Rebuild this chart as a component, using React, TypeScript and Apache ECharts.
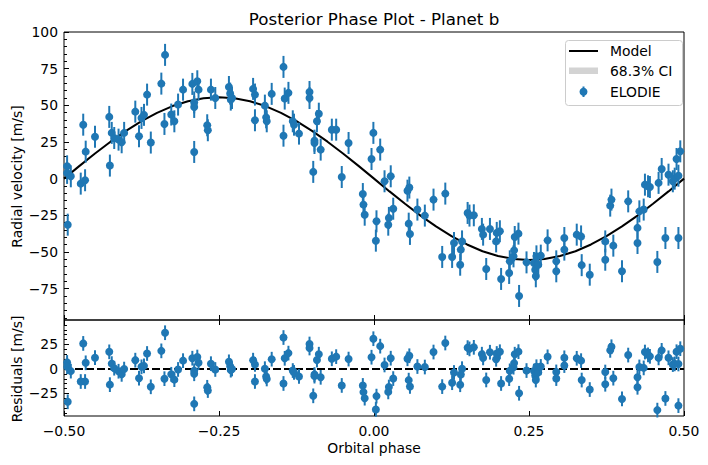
import React, { useEffect, useRef } from "react";
import * as echarts from "echarts";

// ---- Data ----
const PHASE = [
  -0.495, -0.495, -0.489, -0.494, -0.473, -0.466, -0.469, -0.465, -0.45, -0.427,
  -0.426, -0.423, -0.419, -0.412, -0.407, -0.403, -0.385, -0.379, -0.375, -0.371,
  -0.366, -0.36, -0.343, -0.337, -0.338, -0.327, -0.322, -0.316, -0.308, -0.293,
  -0.285, -0.283, -0.29, -0.29, -0.29, -0.269, -0.268, -0.263, -0.256, -0.234,
  -0.232, -0.231, -0.229, -0.195, -0.192, -0.192, -0.176, -0.174, -0.173, -0.165,
  -0.146, -0.146, -0.144, -0.138, -0.131, -0.129, -0.121, -0.104, -0.104, -0.098,
  -0.096, -0.096, -0.092, -0.089, -0.086, -0.068, -0.061, -0.052, -0.041, -0.018,
  -0.017, -0.015, -0.004, -0.001, 0.004, 0.003, 0.01, 0.017, 0.023, 0.024,
  0.027, 0.031, 0.054, 0.057, 0.056, 0.058, 0.07, 0.082, 0.096, 0.115,
  0.11, 0.126, 0.129, 0.139, 0.142, 0.14, 0.151, 0.154, 0.161, 0.174,
  0.176, 0.181, 0.187, 0.197, 0.198, 0.203, 0.205, 0.218, 0.219, 0.225,
  0.226, 0.227, 0.233, 0.234, 0.246, 0.258, 0.26, 0.262, 0.261, 0.265,
  0.269, 0.28, 0.294, 0.294, 0.307, 0.307, 0.327, 0.334, 0.335, 0.348,
  0.373, 0.373, 0.386, 0.4, 0.381, 0.383, 0.41, 0.425, 0.425, 0.428,
  0.435, 0.437, 0.442, 0.445, 0.457, 0.459, 0.464, 0.47, 0.475, 0.482,
  0.485, 0.488, 0.491, 0.491, 0.494,
];

const RV = [
  8.4, 3.9, 1.6, -31.4, -3.4, -1.1, 36.8, 18.4, 28.6, 42.1,
  8.9, 31.2, 27.7, 26.6, 24.8, 31.2, 45.7, 28.9, 41.4, 43.5,
  57.3, 24.6, 64.8, 84.4, 37.3, 43.7, 39.1, 50.5, 60.7, 64.6,
  66.4, 60.7, 52.0, 48.9, 18.2, 36.4, 33.0, 60.7, 55.0, 62.5,
  58.0, 53.9, 55.0, 61.2, 57.3, 39.8, 49.8, 41.8, 39.1, 57.8,
  76.2, 29.3, 54.6, 58.5, 39.1, 36.8, 30.7, 59.1, 55.0, 4.6,
  25.9, 24.3, 39.1, 44.3, 19.8, 33.4, 33.4, 1.1, 24.3, -10.5,
  -17.7, -24.6, 13.4, 31.2, -29.1, -42.3, 19.8, -1.8, -31.4, -26.8,
  1.6, -20.5, -8.2, -6.1, -30.7, -37.7, -21.1, -25.2, -14.3, -10.2,
  -53.4, -53.4, -43.9, -58.7, -42.8, -48.4, -23.4, -25.2, -25.0, -34.3,
  -38.2, -61.6, -34.3, -42.8, -37.0, -35.9, -68.4, -64.3, -56.4, -53.0,
  -48.9, -39.8, -37.5, -80.0, -57.1, -57.5, -62.1, -53.0, -66.6, -58.7,
  -52.5, -42.1, -56.4, -63.2, -40.5, -48.4, -38.2, -39.4, -59.0, -65.5,
  -42.8, -55.3, -45.7, -63.2, -18.4, -14.3, -15.5, -33.6, -43.9, -22.3,
  -21.1, -4.1, -5.2, -5.7, -56.8, -2.9, 6.6, -40.5, 2.7, -1.8,
  0.0, 13.4, 2.0, -40.5, 18.6,
];

const RESID = [
  6.7, 2.2, -2.2, -33.5, -12.8, -12.8, 26.1, 6.3, 11.5, 17.5,
  -16.0, 5.5, 0.8, -2.3, -5.5, -0.1, 9.0, -9.4, 2.2, 3.2,
  15.8, -18.2, 18.5, 37.0, -9.9, -5.4, -10.9, -0.5, 8.5, 11.0,
  12.2, 6.4, -1.8, -4.9, -35.6, -18.7, -22.0, 5.4, -0.5, 7.3,
  2.9, -1.2, 0.0, 9.0, 4.7, -12.8, 0.3, -7.6, -10.2, 10.0,
  32.1, -14.8, 10.9, 16.2, -1.6, -3.5, -7.6, 25.5, 21.4, -27.4,
  -5.7, -7.3, 9.1, 15.1, -8.5, 10.4, 12.6, -16.8, 10.1, -16.8,
  -23.6, -29.8, 12.0, 30.9, -27.7, -41.3, 23.3, 4.1, -23.4, -18.4,
  11.0, -9.8, 10.4, 13.5, -11.4, -17.8, 2.5, 2.0, 17.3, 26.5,
  -18.0, -14.0, -3.6, -16.1, 0.3, -5.6, 21.8, 20.5, 22.1, 15.1,
  11.3, -11.2, 17.1, 9.9, 15.8, 17.6, -14.8, -9.9, -1.9, 1.8,
  6.0, 15.1, 17.7, -24.8, -1.6, -2.1, -6.7, 2.3, -11.3, -3.5,
  2.6, 12.4, -3.0, -9.8, 11.4, 3.5, 10.9, 8.5, -11.3, -21.0,
  -3.1, -15.6, -9.4, -30.6, 19.0, 22.7, 14.2, -8.4, -18.7, 2.1,
  1.1, 17.3, 14.4, 12.9, -42.0, 11.3, 19.0, -30.1, 11.4, 4.5,
  5.2, 17.6, 5.1, -37.4, 20.7,
];

const RV_ERR = 7.5;

// Model curve sampled from the plotted line
const MODEL_X = [
  -0.5, -0.475, -0.45, -0.425, -0.4, -0.375, -0.35, -0.325, -0.3, -0.275,
  -0.25, -0.225, -0.2, -0.175, -0.15, -0.125, -0.1, -0.075, -0.05, -0.025,
  0, 0.025, 0.05, 0.075, 0.1, 0.125, 0.15, 0.175, 0.2, 0.225,
  0.25, 0.275, 0.3, 0.325, 0.35, 0.375, 0.4, 0.425, 0.45, 0.475, 0.5,
];
const MODEL_Y = [
  0, 8.7, 17.1, 25.2, 32.6, 39.2, 44.9, 49.5, 52.8, 54.8,
  55.5, 54.8, 52.8, 49.5, 44.9, 39.2, 32.6, 25.2, 17.1, 8.7,
  0, -8.7, -17.1, -25.2, -32.6, -39.2, -44.9, -49.5, -52.8, -54.8,
  -55.5, -54.8, -52.8, -49.5, -44.9, -39.2, -32.6, -25.2, -17.1, -8.7, 0,
];

const X_TICKS = [-0.5, -0.25, 0, 0.25, 0.5];
const RV_TICKS = [-75, -50, -25, 0, 25, 50, 75, 100];
const RV_MINOR = [
  -95, -90, -85, -80, -70, -65, -60, -55, -45, -40, -35, -30, -20, -15, -10, -5,
  5, 10, 15, 20, 30, 35, 40, 45, 55, 60, 65, 70, 80, 85, 90, 95,
];
const RES_TICKS = [-25, 0, 25];
const RES_MINOR = [-45, -40, -35, -30, -20, -15, -10, -5, 5, 10, 15, 20, 30, 35, 40, 45];

const TITLE = "Posterior Phase Plot - Planet b";
const LEGEND = ["Model", "68.3% CI", "ELODIE"];

const BLUE = "#1f77b4";
const FONT = "DejaVu Sans";

function fmtInt(v: number) {
  return v < 0 ? "\u2212" + Math.abs(v) : String(v);
}
function fmtX(v: number) {
  const s = Math.abs(v).toFixed(2);
  return v < 0 ? "\u2212" + s : s;
}

function errRender(params: any, api: any) {
  const x = api.value(0);
  const y = api.value(1);
  const e = api.value(2);
  const p = api.coord([x, y]);
  const t = api.coord([x, y + e]);
  const b = api.coord([x, y - e]);
  return {
    type: "group",
    children: [
      {
        type: "line",
        shape: { x1: p[0], y1: t[1], x2: p[0], y2: b[1] },
        style: { stroke: BLUE, lineWidth: 2 },
      },
      {
        type: "circle",
        shape: { cx: p[0], cy: p[1], r: 4 },
        style: { fill: BLUE },
      },
    ],
  };
}

export default function App() {
  const ref = useRef<HTMLDivElement>(null);
  useEffect(() => {
    if (!ref.current) return;
    const chart = echarts.init(ref.current, null, { renderer: "svg" });
    const tickStyle = { color: "#000", width: 1 };
    const labelStyle = { color: "#000", fontSize: 13.9, fontFamily: FONT };
    const noLine = { show: false, onZero: false };

    const option: any = {
      animation: false,
      textStyle: { fontFamily: FONT },
      grid: [
        { left: 64, top: 32, width: 620, height: 288, show: true, borderColor: "#000", borderWidth: 1, backgroundColor: "transparent" },
        { left: 64, top: 320, width: 620, height: 96, show: true, borderColor: "#000", borderWidth: 1, backgroundColor: "transparent" },
      ],
      xAxis: [
        {
          gridIndex: 0, type: "value", min: -0.5, max: 0.5, interval: 0.25, position: "bottom",
          axisLine: noLine, splitLine: { show: false },
          axisTick: { show: true, inside: true, length: 5, lineStyle: tickStyle, customValues: X_TICKS },
          axisLabel: { show: false },
        },
        {
          gridIndex: 1, type: "value", min: -0.5, max: 0.5, interval: 0.25, position: "bottom",
          axisLine: noLine, splitLine: { show: false },
          axisTick: { show: true, inside: true, length: 5, lineStyle: tickStyle, customValues: X_TICKS },
          axisLabel: { show: true, margin: 8, formatter: fmtX, customValues: X_TICKS, ...labelStyle },
        },
        {
          gridIndex: 1, type: "value", min: -0.5, max: 0.5, interval: 0.25, position: "top",
          axisLine: noLine, splitLine: { show: false },
          axisTick: { show: true, inside: true, length: 5, lineStyle: tickStyle, customValues: X_TICKS },
          axisLabel: { show: false },
        },
      ],
      yAxis: [
        {
          gridIndex: 0, type: "value", min: -96.4, max: 100, position: "left",
          axisLine: noLine, splitLine: { show: false },
          axisTick: { show: true, inside: true, length: 5, lineStyle: tickStyle, customValues: RV_TICKS },
          axisLabel: { show: true, margin: 6, formatter: fmtInt, customValues: RV_TICKS, ...labelStyle },
        },
        {
          gridIndex: 0, type: "value", min: -96.4, max: 100, position: "left",
          axisLine: noLine, splitLine: { show: false },
          axisTick: { show: true, inside: true, length: 3, lineStyle: tickStyle, customValues: RV_MINOR },
          axisLabel: { show: false },
        },
        {
          gridIndex: 1, type: "value", min: -48, max: 50, position: "left",
          axisLine: noLine, splitLine: { show: false },
          axisTick: { show: true, inside: true, length: 5, lineStyle: tickStyle, customValues: RES_TICKS },
          axisLabel: { show: true, margin: 6, formatter: fmtInt, customValues: RES_TICKS, ...labelStyle },
        },
        {
          gridIndex: 1, type: "value", min: -48, max: 50, position: "left",
          axisLine: noLine, splitLine: { show: false },
          axisTick: { show: true, inside: true, length: 3, lineStyle: tickStyle, customValues: RES_MINOR },
          axisLabel: { show: false },
        },
      ],
      series: [
        {
          name: LEGEND[0], type: "line", xAxisIndex: 0, yAxisIndex: 0,
          data: MODEL_X.map((x, i) => [x, MODEL_Y[i]]),
          showSymbol: false, symbol: "none", smooth: false,
          lineStyle: { color: "#000", width: 2 }, z: 2,
        },
        {
          name: LEGEND[2], type: "custom", xAxisIndex: 0, yAxisIndex: 0,
          renderItem: errRender, encode: { x: 0, y: 1 },
          data: PHASE.map((x, i) => [x, RV[i], RV_ERR]), z: 3,
        },
        {
          name: "zero", type: "line", xAxisIndex: 1, yAxisIndex: 2,
          data: [[-0.5, 0], [0.5, 0]], showSymbol: false, symbol: "none",
          lineStyle: { color: "#000", width: 2, type: [8, 3] }, z: 2,
        },
        {
          name: "Residuals", type: "custom", xAxisIndex: 1, yAxisIndex: 2,
          renderItem: errRender, encode: { x: 0, y: 1 },
          data: PHASE.map((x, i) => [x, RESID[i], RV_ERR]), z: 3,
        },
      ],
      graphic: [
        { type: "text", x: 374, y: 18.5, z: 10, style: { text: TITLE, fontSize: 16.7, fontFamily: FONT, fill: "#000", align: "center", verticalAlign: "middle" } },
        { type: "text", x: 374, y: 448, z: 10, style: { text: "Orbital phase", fontSize: 13.9, fontFamily: FONT, fill: "#000", align: "center", verticalAlign: "middle" } },
        { type: "text", x: 17, y: 176.5, rotation: Math.PI / 2, z: 10, style: { text: "Radial velocity [m/s]", fontSize: 13.9, fontFamily: FONT, fill: "#000", align: "center", verticalAlign: "middle" } },
        { type: "text", x: 17, y: 369, rotation: Math.PI / 2, z: 10, style: { text: "Residuals [m/s]", fontSize: 13.9, fontFamily: FONT, fill: "#000", align: "center", verticalAlign: "middle" } },
        // legend
        { type: "rect", z: 20, shape: { x: 565.5, y: 40.5, width: 117, height: 65, r: 3 }, style: { fill: "rgba(255,255,255,0.8)", stroke: "#cccccc", lineWidth: 1 } },
        { type: "line", z: 21, shape: { x1: 569, y1: 51, x2: 598, y2: 51 }, style: { stroke: "#000", lineWidth: 2 } },
        { type: "rect", z: 21, shape: { x: 569, y: 67.5, width: 29, height: 6.5 }, style: { fill: "#d3d3d3" } },
        { type: "line", z: 21, shape: { x1: 583.5, y1: 86.5, x2: 583.5, y2: 97 }, style: { stroke: BLUE, lineWidth: 2 } },
        { type: "circle", z: 21, shape: { cx: 583.5, cy: 91.7, r: 4 }, style: { fill: BLUE } },
        { type: "text", x: 610, y: 51, z: 21, style: { text: LEGEND[0], fontSize: 13.9, fontFamily: FONT, fill: "#000", align: "left", verticalAlign: "middle" } },
        { type: "text", x: 610, y: 71, z: 21, style: { text: LEGEND[1], fontSize: 13.9, fontFamily: FONT, fill: "#000", align: "left", verticalAlign: "middle" } },
        { type: "text", x: 610, y: 92, z: 21, style: { text: LEGEND[2], fontSize: 13.9, fontFamily: FONT, fill: "#000", align: "left", verticalAlign: "middle" } },
      ],
    };
    chart.setOption(option);
    return () => chart.dispose();
  }, []);

  return (
    <div
      ref={ref}
      style={{ position: "fixed", left: 0, top: 0, width: 708, height: 465, background: "#fff" }}
    />
  );
}
